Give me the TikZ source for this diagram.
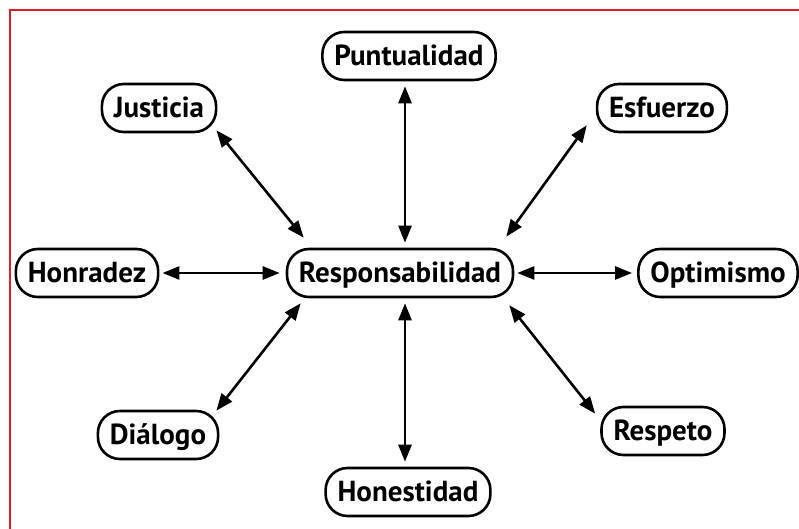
\documentclass[tikz,border=0pt]{standalone}
\usepackage{fontspec}
\setmainfont{PT Sans}
\usetikzlibrary{arrows.meta}
\definecolor{cadre}{RGB}{225,30,35}
\tikzset{lien/.style = {{Triangle[length=17pt,width=13pt]}-{Triangle[length=17pt,width=13pt]},
                        line width=2.6pt, shorten <=5pt, shorten >=5pt},
         coin/.style = {lien, shorten <=0pt, shorten >=0pt}
        }

\begin{document}
\begin{tikzpicture}[x=1pt,y=1pt]
\useasboundingbox (0,0) rectangle (799,529);
\draw[cadre, line width=2.2pt] (10,0) -- (10,519) -- (799,519);
\tikzstyle{every node}=[rectangle, rounded corners=22pt, draw, line width=2.6pt, minimum height=48pt,
                        inner xsep=12pt, text height=20pt, text depth=0pt,
                        font=\fontsize{29}{30}\selectfont\bfseries]
\node at (400,256) (resp) {Responsabilidad};
\node at (409,473) (punt) {Puntualidad};
\node at (159,421) (just) {Justicia};
\node at (662,421) (esf) {Esfuerzo};
\node at (87,256) (honr) {Honradez};
\node at (718,256) (opt) {Optimismo};
\node at (158,94) (dial) {Diálogo};
\node at (663,98) (resq) {Respeto};
\node at (408,37) (hone) {Honestidad};
\draw[lien] ([xshift=-4pt]punt.south) -- ([xshift=-4pt]punt.south |- resp.north);
\draw[lien] ([xshift=-3pt]hone.north |- resp.south) -- ([xshift=-3pt]hone.north);
\draw[lien, shorten <=3pt, shorten >=6pt] (honr.east) -- (resp.west);
\draw[lien, shorten <=3pt] (resp.east) -- (opt.west);
\draw[coin] ([shift={(-1,3)}]just.south east) -- ([shift={(18,10)}]resp.north west);
\draw[coin] ([shift={(-9,8)}]esf.south west) -- ([shift={(-8,11)}]resp.north east);
\draw[coin] ([shift={(-3,-1)}]dial.north east) -- ([shift={(15,-5)}]resp.south west);
\draw[coin] ([shift={(-5,-8)}]resq.north west) -- ([shift={(-5,-7)}]resp.south east);
\end{tikzpicture}
\end{document}
